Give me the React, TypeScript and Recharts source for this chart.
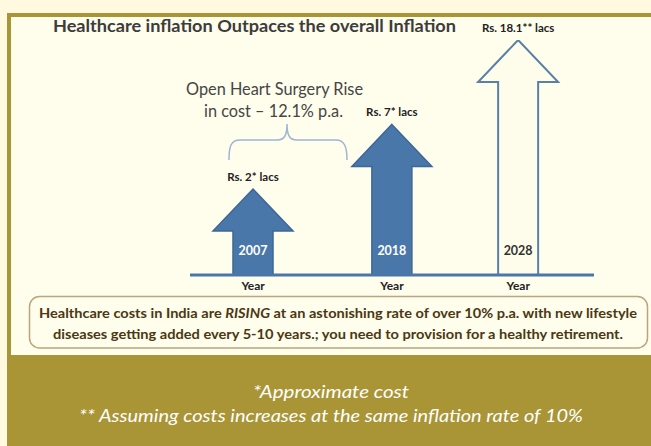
import React from 'react';
import { BarChart, Bar, XAxis, YAxis, LabelList } from 'recharts';

// values
const years = [2007, 2018, 2028];
const costLacs = [2, 7, 18.1];
const costLabels = ['Rs. 2* lacs', 'Rs. 7* lacs', 'Rs. 18.1** lacs'];
const projectedYears = [2028];
const yearTicks = [2007, 2018, 2028];
const tickText = 'Year';

const data = years.map((year, i) => ({
  year,
  cost: costLacs[i],
  label: costLabels[i],
  projected: projectedYears.includes(year),
}));

const GOLD = '#A99536';
const BLUE = '#4A77AA';

const ArrowShape = (props: any) => {
  const { x, y, width, height, background, payload } = props;
  const bottom = background ? background.y + background.height : y + height;
  const cx = x + width / 2;
  const half = width / 4;
  const headH = 42;
  const d = `M${cx},${y} L${x + width},${y + headH} L${cx + half},${y + headH} L${cx + half},${bottom} L${cx - half},${bottom} L${cx - half},${y + headH} L${x},${y + headH} Z`;
  if (payload && payload.projected) {
    return <path d={d} fill="#FEFDEB" stroke="#5A80A8" strokeWidth={2} />;
  }
  return <path d={d} fill={BLUE} stroke="#3D6797" strokeWidth={1.5} />;
};

const CostLabel = (props: any) => {
  const { x, y, width, value } = props;
  return (
    <text x={x + width / 2} y={y - 8} textAnchor="middle" fontFamily="Lato" fontWeight={700} fontSize={11.5} fill="#222">
      {value}
    </text>
  );
};

const YearLabel = (props: any) => {
  const { x, y, width, height, value, index } = props;
  const projected = data[index] && data[index].projected;
  return (
    <text
      x={x + width / 2}
      y={y + height - 13}
      textAnchor="middle"
      dominantBaseline="central"
      fontFamily="Lato"
      fontWeight={700}
      fontSize={12.5}
      fill={projected ? '#333' : '#fff'}
    >
      {value}
    </text>
  );
};

const App = () => {
  return (
    <div style={{ position: 'absolute', left: 0, top: 0, width: 651, height: 446, overflow: 'hidden', background: '#FFFADF' }}>
      <svg width={651} height={446} style={{ position: 'absolute', left: 0, top: 0 }}>
        <rect x={9} y={15} width={700} height={342} fill="#FFFDEC" stroke={GOLD} strokeWidth={4} />
        <rect x={7} y={357} width={650} height={89} fill={GOLD} />
        <text x={254.5} y={32} textAnchor="middle" fontFamily="Lato" fontWeight={700} fontSize={17} fill="#3C3C3C" textLength={403} lengthAdjust="spacingAndGlyphs">
          Healthcare inflation Outpaces the overall Inflation
        </text>
        <text x={274.5} y={88} textAnchor="middle" dominantBaseline="central" fontFamily="Lato" fontSize={18} fill="#454545" textLength={177} lengthAdjust="spacingAndGlyphs">
          Open Heart Surgery Rise
        </text>
        <text x={273.5} y={110} textAnchor="middle" dominantBaseline="central" fontFamily="Lato" fontSize={18} fill="#454545" textLength={139} lengthAdjust="spacingAndGlyphs">
          in cost – 12.1% p.a.
        </text>
        <path
          d="M229,160 C229,146 231,140 240,140 L277,140 C284,140 287,136 287,124 C287,136 290,140 297,140 L336,140 C344,140 347,146 347,160"
          fill="none"
          stroke="#9DB6D2"
          strokeWidth={1.5}
        />
        <rect x={29.5} y={296.5} width={618} height={51.5} rx={10} fill="none" stroke="#BCA57B" strokeWidth={1.5} />
        <text x={338} y={312} textAnchor="middle" dominantBaseline="central" fontFamily="Lato" fontWeight={700} fontSize={14} fill="#4B3712" textLength={598} lengthAdjust="spacingAndGlyphs">
          Healthcare costs in India are <tspan fontStyle="italic">RISING</tspan> at an astonishing rate of over 10% p.a. with new lifestyle
        </text>
        <text x={338} y={333} textAnchor="middle" dominantBaseline="central" fontFamily="Lato" fontWeight={700} fontSize={14} fill="#4B3712" textLength={570} lengthAdjust="spacingAndGlyphs">
          diseases getting added every 5-10 years.; you need to provision for a healthy retirement.
        </text>
        <text x={331} y={391} textAnchor="middle" dominantBaseline="central" fontFamily="Lato" fontStyle="italic" fontSize={17} fill="#fff" textLength={156} lengthAdjust="spacingAndGlyphs">
          *Approximate cost
        </text>
        <text x={331} y={415} textAnchor="middle" dominantBaseline="central" fontFamily="Lato" fontStyle="italic" fontSize={17} fill="#fff" textLength={504} lengthAdjust="spacingAndGlyphs">
          ** Assuming costs increases at the same inflation rate of 10%
        </text>
      </svg>
      <div style={{ position: 'absolute', left: 0, top: 0 }}>
        <BarChart width={651} height={446} data={data} margin={{ top: 40, right: 57, left: 190, bottom: 141 }}>
          <XAxis
            dataKey="year"
            type="number"
            domain={[2002, 2034]}
            ticks={yearTicks}
            allowDataOverflow
            height={30}
            tickFormatter={() => tickText}
            tickLine={false}
            tickSize={4}
            axisLine={{ stroke: BLUE, strokeWidth: 3 }}
            tick={{ fill: '#222', fontFamily: 'Lato', fontWeight: 700, fontSize: 12 }}
          />
          <YAxis hide type="number" scale="sqrt" domain={[-0.05, 18.1]} allowDataOverflow />
          <Bar dataKey="cost" barSize={80} shape={<ArrowShape />} isAnimationActive={false}>
            <LabelList dataKey="label" content={<CostLabel />} />
            <LabelList dataKey="year" content={<YearLabel />} />
          </Bar>
        </BarChart>
      </div>
    </div>
  );
};

export default App;
